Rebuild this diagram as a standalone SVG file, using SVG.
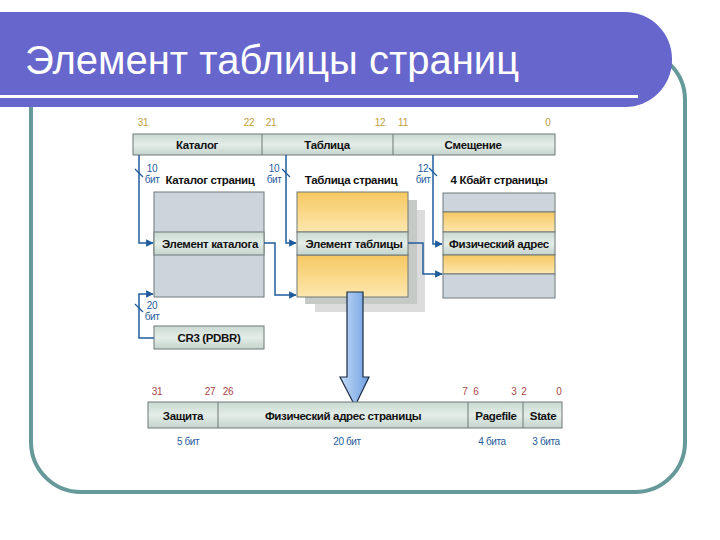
<svg xmlns="http://www.w3.org/2000/svg" width="720" height="540" viewBox="0 0 720 540">
<defs>
<linearGradient id="gOr" x1="0" y1="0" x2="0" y2="1"><stop offset="0" stop-color="#f6c862"/><stop offset="1" stop-color="#fde7ae"/></linearGradient>
<linearGradient id="gGr" x1="0" y1="0" x2="0" y2="1"><stop offset="0" stop-color="#c9d9d1"/><stop offset="0.5" stop-color="#e4ede8"/><stop offset="1" stop-color="#c4d4cc"/></linearGradient>
<linearGradient id="gBl" x1="0" y1="0" x2="1" y2="0"><stop offset="0" stop-color="#c4dcf8"/><stop offset="1" stop-color="#6e9ee0"/></linearGradient>
<marker id="ah" viewBox="0 0 6 6" refX="5.5" refY="3" markerWidth="5" markerHeight="5" orient="auto"><path d="M0,0 L6,3 L0,6 Z" fill="#1f5c9c"/></marker>
<style>
.lbl{font-family:"Liberation Sans",Arial,sans-serif;font-weight:bold;font-size:11.5px;letter-spacing:-0.35px;fill:#111;text-anchor:middle}
.num{font-family:"Liberation Sans",Arial,sans-serif;font-size:10px;letter-spacing:-0.3px;text-anchor:middle}
.gold{fill:#c0a040}
.red{fill:#a84848}
.bit{font-family:"Liberation Sans",Arial,sans-serif;font-size:10px;letter-spacing:-0.4px;fill:#1f5c9c;text-anchor:middle}
.box{stroke:#6f7878;stroke-width:1}
.gray{fill:#cdd5dc}
.con{fill:none;stroke:#1f5c9c;stroke-width:1.5}
.tick{stroke:#1f5c9c;stroke-width:1.2}
</style>
</defs>
<rect width="720" height="540" fill="#ffffff"/>
<!-- outer frame -->
<rect x="31" y="50" width="654" height="442" rx="50" ry="50" fill="none" stroke="#669999" stroke-width="4"/>
<!-- title bar -->
<g id="title">
<rect x="-60" y="12" width="732" height="95" rx="47" ry="47" fill="#6666cc"/>
<rect x="0" y="95" width="638" height="3" fill="#ffffff"/>
<text x="25" y="74" font-family="Liberation Sans, Arial, sans-serif" font-size="40" fill="#ffffff">Элемент таблицы страниц</text>
</g>

<!-- top register -->
<g id="linear-address">
<rect x="133" y="134" width="422" height="21" fill="url(#gGr)" class="box"/>
<line x1="262" y1="134" x2="262" y2="155" stroke="#6f7878"/>
<line x1="393" y1="134" x2="393" y2="155" stroke="#6f7878"/>
<text class="lbl" x="197" y="149">Каталог</text>
<text class="lbl" x="327" y="149">Таблица</text>
<text class="lbl" x="473" y="149">Смещение</text>
<text class="num gold" x="143" y="126">31</text>
<text class="num gold" x="249" y="126">22</text>
<text class="num gold" x="271" y="126">21</text>
<text class="num gold" x="380" y="126">12</text>
<text class="num gold" x="403" y="126">11</text>
<text class="num gold" x="548" y="126">0</text>
</g>

<!-- page directory -->
<g id="page-directory">
<text class="lbl" x="210" y="184">Каталог страниц</text>
<rect x="154" y="192" width="110" height="105" class="box gray"/>
<rect x="154" y="232" width="110" height="23" fill="url(#gGr)" class="box"/>
<text class="lbl" x="210" y="248">Элемент каталога</text>
</g>

<!-- page table -->
<g id="page-table">
<rect x="315" y="210" width="110" height="102" fill="#dcdcdc"/>
<rect x="305" y="200" width="112" height="104" fill="#c5cac6"/>
<text class="lbl" x="351" y="184">Таблица страниц</text>
<rect x="297" y="192" width="111" height="40" fill="url(#gOr)" class="box"/>
<rect x="297" y="255" width="111" height="42" fill="url(#gOr)" class="box"/>
<rect x="297" y="232" width="111" height="23" fill="url(#gGr)" class="box"/>
<text class="lbl" x="354" y="248">Элемент таблицы</text>
</g>

<!-- 4K page -->
<g id="page-4k">
<text class="lbl" x="499" y="184">4 Кбайт страницы</text>
<rect x="443" y="193" width="112" height="19" class="box gray"/>
<rect x="443" y="212" width="112" height="20" fill="url(#gOr)" class="box"/>
<rect x="443" y="232" width="112" height="23" fill="url(#gGr)" class="box"/>
<rect x="443" y="255" width="112" height="19" fill="url(#gOr)" class="box"/>
<rect x="443" y="274" width="112" height="24" class="box gray"/>
<text class="lbl" x="499" y="248">Физический адрес</text>
</g>

<!-- CR3 -->
<g id="cr3">
<rect x="154" y="326" width="110" height="23" fill="url(#gGr)" class="box"/>
<text class="lbl" x="209" y="342">CR3 (PDBR)</text>
</g>

<!-- connectors -->
<g id="connectors">
<path class="con" d="M139,155 V243 H153" marker-end="url(#ah)"/>
<path class="con" d="M286,155 V243 H296" marker-end="url(#ah)"/>
<path class="con" d="M433,155 V244 H442" marker-end="url(#ah)"/>
<path class="con" d="M264,243 H275 V295 H296" marker-end="url(#ah)"/>
<path class="con" d="M408,243 H423 V274 H442" marker-end="url(#ah)"/>
<path class="con" d="M154,338 H139 V294 H153" marker-end="url(#ah)"/>
<line class="tick" x1="135" y1="169" x2="143" y2="177"/>
<line class="tick" x1="282" y1="169" x2="290" y2="177"/>
<line class="tick" x1="429" y1="168" x2="437" y2="176"/>
<line class="tick" x1="135" y1="304" x2="143" y2="312"/>
<text class="bit" x="152" y="172">10</text>
<text class="bit" x="152" y="183">бит</text>
<text class="bit" x="274" y="172">10</text>
<text class="bit" x="274" y="183">бит</text>
<text class="bit" x="423" y="172">12</text>
<text class="bit" x="423" y="183">бит</text>
<text class="bit" x="152" y="309">20</text>
<text class="bit" x="152" y="320">бит</text>
<path d="M347,292 H363 V377 H369 L355,406 L340,377 H347 Z" fill="url(#gBl)" stroke="#1a2a40" stroke-width="1.2"/>
</g>

<!-- page table entry -->
<g id="pte">
<rect x="148" y="402" width="414" height="26" fill="url(#gGr)" class="box"/>
<line x1="218" y1="402" x2="218" y2="428" stroke="#6f7878"/>
<line x1="468" y1="402" x2="468" y2="428" stroke="#6f7878"/>
<line x1="523" y1="402" x2="523" y2="428" stroke="#6f7878"/>
<text class="lbl" x="183" y="420">Защита</text>
<text class="lbl" x="343" y="420">Физический адрес страницы</text>
<text class="lbl" x="496" y="420">Pagefile</text>
<text class="lbl" x="543" y="420">State</text>
<text class="num red" x="157" y="395">31</text>
<text class="num red" x="210" y="395">27</text>
<text class="num red" x="228" y="395">26</text>
<text class="num red" x="465" y="395">7</text>
<text class="num red" x="476" y="395">6</text>
<text class="num red" x="514" y="395">3</text>
<text class="num red" x="524" y="395">2</text>
<text class="num red" x="559" y="395">0</text>
<text class="bit" x="188" y="445">5 бит</text>
<text class="bit" x="347" y="445">20 бит</text>
<text class="bit" x="492" y="445">4 бита</text>
<text class="bit" x="546" y="445">3 бита</text>
</g>
</svg>
